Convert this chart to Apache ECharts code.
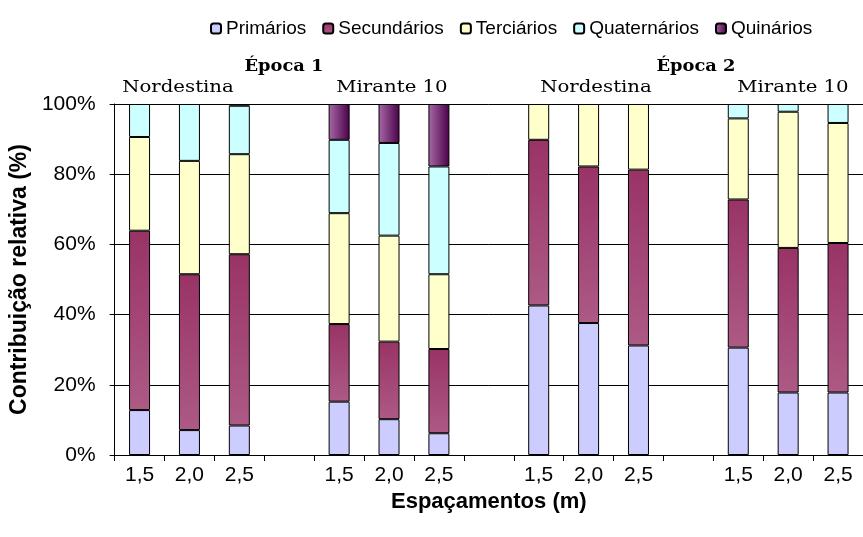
<!DOCTYPE html>
<html><head><meta charset="utf-8">
<script src="https://cdn.jsdelivr.net/npm/echarts@6/dist/echarts.min.js"></script>
<style>html,body{margin:0;padding:0;background:#fff}#c{width:863px;height:537px}</style>
</head><body><div id="c"></div>
<script>
const categories = ['1,5','2,0','2,5','','1,5','2,0','2,5','','1,5','2,0','2,5','','1,5','2,0','2,5'];
const primarios    = [12.8, 7.1, 8.4, null, 15.2, 10.2, 6.2, null, 42.6, 37.6, 31.2, null, 30.6, 17.8, 17.8];
const secundarios  = [51.1, 44.4, 48.8, null, 22.1, 22.1, 24.0, null, 47.2, 44.6, 50.1, null, 42.2, 41.2, 42.6];
const terciarios   = [26.7, 32.3, 28.5, null, 31.6, 30.2, 21.3, null, 10.2, 17.8, 18.7, null, 23.1, 38.8, 34.2];
const quaternarios = [9.4, 16.2, 13.8, null, 20.9, 26.4, 30.7, null, null, null, null, null, 4.1, 2.2, 5.4];
const quinarios    = [null, null, 0.5, null, 10.2, 11.1, 17.8, null, null, null, null, null, null, null, null];
const yTicks = [0, 20, 40, 60, 80, 100];
const epocas = ['Época 1', 'Época 2'];
const cultivares = ['Nordestina', 'Mirante 10', 'Nordestina', 'Mirante 10'];

const chart = echarts.init(document.getElementById('c'));
const G = echarts.graphic.LinearGradient;
const border = {borderColor:'#000', borderWidth:1};
function s(name, data, color){
  return {name, type:'bar', stack:'t', data, barWidth:21,
    itemStyle:Object.assign({color}, border), emphasis:{disabled:true}};
}
const serif = '"DejaVu Serif", serif';
const epX = [284, 696];
const cuX = [178, 392, 596, 793];
const graphics = [];
epocas.forEach((t,i)=>graphics.push({type:'text', x:epX[i], y:58, scaleX:1.05,
  style:{text:t, font:'bold 17px '+serif, fill:'#000', align:'center'}}));
cultivares.forEach((t,i)=>graphics.push({type:'text', x:cuX[i], y:79, scaleX:1.16,
  style:{text:t, font:'17px '+serif, fill:'#000', align:'center'}}));

chart.setOption({
  animation:false,
  textStyle:{fontFamily:'"Liberation Sans", Arial, sans-serif', color:'#000'},
  legend:{top:14, left:205, itemWidth:10, itemHeight:10, itemGap:16,
    textStyle:{fontSize:19, color:'#000'},
    data:['Primários','Secundários','Terciários','Quaternários','Quinários']},
  grid:{left:109, right:-6, top:104, bottom:82},
  xAxis:{type:'category', data:categories, boundaryGap:true,
    name:'Espaçamentos (m)', nameLocation:'middle', nameGap:29,
    nameTextStyle:{fontSize:22, fontWeight:'bold', color:'#000'},
    axisLine:{lineStyle:{color:'#000', width:1}},
    axisTick:{show:true, interval:0, length:6, lineStyle:{color:'#000'}},
    axisLabel:{interval:0, fontSize:21, color:'#000', margin:10}},
  yAxis:{type:'value', min:yTicks[0], max:yTicks[yTicks.length-1], interval:20,
    name:'Contribuição relativa (%)', nameLocation:'middle', nameGap:75,
    nameTextStyle:{fontSize:23, fontWeight:'bold', color:'#000'},
    axisLine:{show:true, lineStyle:{color:'#000'}},
    axisTick:{show:true, length:5, lineStyle:{color:'#000'}},
    axisLabel:{formatter:'{value}%', fontSize:21, color:'#000', margin:19},
    splitLine:{lineStyle:{color:'#000', width:1}}},
  series:[
    s('Primários', primarios, '#CCCCFF'),
    s('Secundários', secundarios, new G(0,0,0,1,[{offset:0,color:'#993366'},{offset:1,color:'#AD5A85'}])),
    s('Terciários', terciarios, '#FFFFCC'),
    s('Quaternários', quaternarios, '#CCFFFF'),
    s('Quinários', quinarios, new G(0,0,1,0,[{offset:0,color:'#A86AA8'},{offset:1,color:'#4A0048'}]))
  ],
  graphic:graphics
});
</script></body></html>
